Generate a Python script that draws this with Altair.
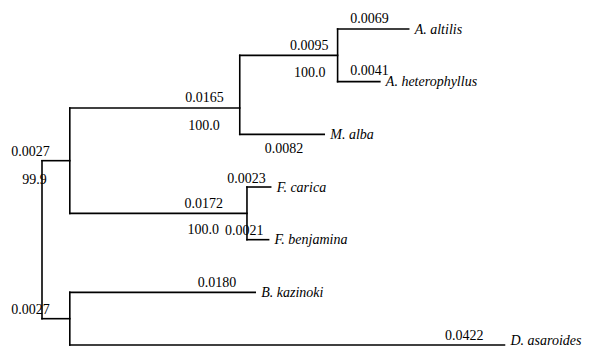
import altair as alt
import pandas as pd

# ---- tree data ----
node_names = ["root", "A", "B", "N2", "N1", "NF",
              "A. altilis", "A. heterophyllus", "M. alba",
              "F. carica", "F. benjamina", "B. kazinoki", "D. asaroides"]
node_parent = [None, "root", "root", "A", "N2", "A",
               "N1", "N1", "N2", "NF", "NF", "B", "B"]
branch_len = [0.0, 0.0027, 0.0027, 0.0165, 0.0095, 0.0172,
              0.0069, 0.0041, 0.0082, 0.0023, 0.0021, 0.0180, 0.0422]
branch_label = ["", "0.0027", "0.0027", "0.0165", "0.0095", "0.0172",
                "0.0069", "0.0041", "0.0082", "0.0023", "0.0021", "0.0180", "0.0422"]
node_row = [4.0, 2.5, 5.5, 1.5, 0.5, 3.5, 0, 1, 2, 3, 4, 5, 6]
boot_nodes = ["A", "N2", "N1", "NF"]
boot_values = ["99.9", "100.0", "100.0", "100.0"]
leaf_names = ["A. altilis", "A. heterophyllus", "M. alba", "F. carica",
              "F. benjamina", "B. kazinoki", "D. asaroides"]

# ---- label styles (pixel offsets relative to the branch end) ----
len_dx = {"A": -20, "B": -20, "N2": -16, "N1": -9, "NF": -24,
          "A. altilis": -20, "A. heterophyllus": 9, "M. alba": -21,
          "F. carica": -5, "F. benjamina": -5, "B. kazinoki": -19, "D. asaroides": -21}
len_dy = {"A": -5, "B": -5, "N2": -5.7, "N1": -5.7, "NF": -5.7,
          "A. altilis": -6, "A. heterophyllus": -6.3, "M. alba": 18.3,
          "F. carica": -4, "F. benjamina": -4.3, "B. kazinoki": -5.3, "D. asaroides": -4.7}
boot_dx = {"A": -23, "N2": -20, "N1": -12, "NF": -28}
boot_dy = {"A": 23.7, "N2": 22.3, "N1": 21.3, "NF": 20.7}
leaf_dy = {"D. asaroides": 0}
LEAF_DY_DEFAULT = 4.5

# ---- derived layout ----
idx = {n: i for i, n in enumerate(node_names)}
cum = {}
def depth(n):
    if n in cum:
        return cum[n]
    p = node_parent[idx[n]]
    cum[n] = branch_len[idx[n]] + (depth(p) if p else 0.0)
    return cum[n]
for n in node_names:
    depth(n)
row = dict(zip(node_names, node_row))

segs = []
for n, p in zip(node_names, node_parent):
    if p is None:
        continue
    segs.append({"x": cum[p], "x2": cum[n], "y": row[n], "y2": row[n]})
for n in node_names:
    kids = [c for c, p in zip(node_names, node_parent) if p == n]
    if kids:
        ys = [row[c] for c in kids]
        segs.append({"x": cum[n], "x2": cum[n], "y": min(ys), "y2": max(ys)})
seg_df = pd.DataFrame(segs)

W, H = 575, 340
K = 10300.0    # px per unit branch length
X0 = 34        # root position inside the plot
ROWPX = 52.67  # px per leaf row
Y0 = 21        # first leaf row inside the plot
x_scale = alt.Scale(domain=[-X0 / K, (W - X0) / K], nice=False, zero=False)
y_scale = alt.Scale(domain=[-Y0 / ROWPX, (H - Y0) / ROWPX], nice=False, zero=False, reverse=True)

FONT = "Liberation Serif"
FS = 14

X = alt.X("x:Q", scale=x_scale, axis=None)
Y = alt.Y("y:Q", scale=y_scale, axis=None)

lines = alt.Chart(seg_df).mark_rule(color="black", strokeWidth=1.6, strokeCap="square").encode(
    x=X, x2="x2:Q", y=Y, y2="y2:Q",
)

layers = [lines]

for n, lab in zip(node_names, branch_label):
    if not lab:
        continue
    d = pd.DataFrame([{"x": cum[n], "y": row[n], "t": lab}])
    layers.append(alt.Chart(d).mark_text(
        align="right", baseline="alphabetic", dx=len_dx[n], dy=len_dy[n],
        font=FONT, fontSize=FS, color="black").encode(x=X, y=Y, text="t:N"))

for n, b in zip(boot_nodes, boot_values):
    d = pd.DataFrame([{"x": cum[n], "y": row[n], "t": b}])
    layers.append(alt.Chart(d).mark_text(
        align="right", baseline="alphabetic", dx=boot_dx[n], dy=boot_dy[n],
        font=FONT, fontSize=FS, color="black").encode(x=X, y=Y, text="t:N"))

for n in leaf_names:
    d = pd.DataFrame([{"x": cum[n], "y": row[n], "t": n}])
    layers.append(alt.Chart(d).mark_text(
        align="left", baseline="alphabetic", dx=6, dy=leaf_dy.get(n, LEAF_DY_DEFAULT),
        font=FONT, fontSize=FS, fontStyle="italic", color="black").encode(x=X, y=Y, text="t:N"))

chart = alt.layer(*layers).properties(
    width=W, height=H,
    autosize=alt.AutoSizeParams(type="none"),
    padding=0,
).configure_view(stroke=None)

chart.save("out.html", embed_options={"renderer": "svg", "actions": False})
